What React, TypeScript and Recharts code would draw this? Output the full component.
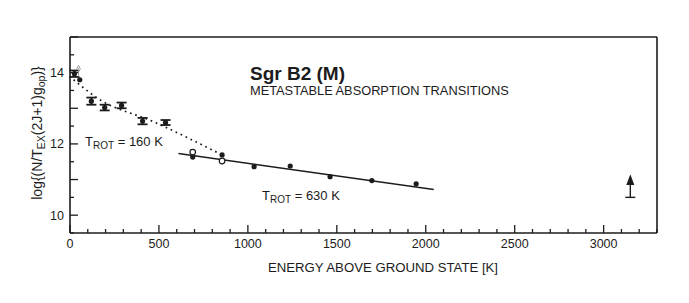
import { ComposedChart, Line, Scatter, ErrorBar, XAxis, YAxis } from "recharts"

// energy above ground state [K] and log column density
const barE = [25, 120, 195, 290, 408, 537]
const barLogN = [13.97, 13.2, 13.02, 13.08, 12.64, 12.6]
const barErr = [0.09, 0.1, 0.08, 0.08, 0.09, 0.07]

const dotE = [55, 690, 855, 1035, 1238, 1462, 1697, 1946]
const dotLogN = [13.8, 11.63, 11.69, 11.36, 11.38, 11.08, 10.97, 10.88]

const openE = [690, 855]
const openLogN = [11.77, 11.52]

// lower limits
const greyLimitE = [48]
const greyLimitLogN = [13.95]
const limitE = [3150]
const limitLogN = [10.5]

// rotational temperature fits
const fit160E = [20, 150, 480, 860]
const fit160LogN = [13.8, 13.3, 12.6, 11.68]
const fit630E = [610, 2045]
const fit630LogN = [11.73, 10.72]

const xLabelTicks = [0, 500, 1000, 1500, 2000, 2500, 3000]
const yLabelTicks = [10, 12, 14]
const xTicks = Array.from({ length: 34 }, (_, i) => i * 100)
const yTicks = Array.from({ length: 12 }, (_, i) => 9.5 + i * 0.5)

const pts = (xs: number[], ys: number[], err?: number[]) =>
  xs.map((x, i) => ({ x, y: ys[i], err: err ? err[i] : 0 }))

const INK = "#1c1c1c"
const FONT = "'Liberation Sans', Arial, sans-serif"

const XTick = (p: any) => {
  const { x, y, payload, side } = p
  const v = payload.value
  const major = v % 500 === 0
  const dir = side === "bottom" ? -1 : 1
  return (
    <g>
      <line x1={x} x2={x} y1={y} y2={y + dir * (major ? 8 : 4)} stroke={INK} strokeWidth={1.3} />
      {side === "bottom" && xLabelTicks.includes(v) && (
        <text x={x} y={y + 15} textAnchor="middle" fontSize={12.5} fill={INK} fontFamily={FONT}>
          {v}
        </text>
      )}
    </g>
  )
}

const YTick = (p: any) => {
  const { x, y, payload, side } = p
  const v = payload.value
  const major = Number.isInteger(v)
  const dir = side === "left" ? 1 : -1
  return (
    <g>
      <line x1={x} x2={x + dir * (major ? 8 : 4)} y1={y} y2={y} stroke={INK} strokeWidth={1.3} />
      {side === "left" && yLabelTicks.includes(v) && (
        <text x={x - 6} y={y + 4.5} textAnchor="end" fontSize={12.5} fill={INK} fontFamily={FONT}>
          {v}
        </text>
      )}
    </g>
  )
}

const Dot = (p: any) => <circle cx={p.cx} cy={p.cy} r={2.6} fill={INK} />
const OpenDot = (p: any) => <circle cx={p.cx} cy={p.cy} r={2.8} fill="#fff" stroke={INK} strokeWidth={1.2} />

const Arrow = (p: any) => (
  <g stroke={INK} strokeWidth={1.4}>
    <line x1={p.cx - 5} x2={p.cx + 5} y1={p.cy} y2={p.cy} />
    <line x1={p.cx} x2={p.cx} y1={p.cy} y2={p.cy - 14} />
    <path d={`M${p.cx - 3},${p.cy - 13} L${p.cx},${p.cy - 21} L${p.cx + 3},${p.cy - 13} Z`} fill={INK} />
  </g>
)

const GreyArrow = (p: any) => (
  <g stroke="#9a9a9a" strokeWidth={1}>
    <line x1={p.cx} x2={p.cx} y1={p.cy + 2} y2={p.cy - 6} />
    <path d={`M${p.cx - 2},${p.cy - 5} L${p.cx},${p.cy - 9} L${p.cx + 2},${p.cy - 5}`} fill="none" />
  </g>
)

export default function App() {
  return (
    <div style={{ position: "absolute", left: 0, top: 0, width: 689, height: 303, background: "#fff" }}>
      <ComposedChart width={689} height={303} margin={{ top: 0, right: 0, bottom: 0, left: 0 }}>
        <XAxis
          xAxisId={0}
          dataKey="x"
          type="number"
          domain={[0, 3300]}
          ticks={xTicks}
          interval={0}
          height={70}
          tickSize={0}
          tickMargin={0}
          tickLine={false}
          axisLine={{ stroke: INK, strokeWidth: 1.6 }}
          tick={(p: any) => <XTick {...p} side="bottom" />}
        />
        <XAxis
          xAxisId="top"
          orientation="top"
          dataKey="x"
          type="number"
          domain={[0, 3300]}
          ticks={xTicks}
          interval={0}
          height={37}
          tickSize={0}
          tickMargin={0}
          tickLine={false}
          axisLine={{ stroke: INK, strokeWidth: 1.6 }}
          tick={(p: any) => <XTick {...p} side="top" />}
        />
        <YAxis
          yAxisId={0}
          type="number"
          domain={[9.5, 15]}
          ticks={yTicks}
          interval={0}
          width={70}
          tickSize={0}
          tickMargin={0}
          tickLine={false}
          axisLine={{ stroke: INK, strokeWidth: 1.6 }}
          tick={(p: any) => <YTick {...p} side="left" />}
        />
        <YAxis
          yAxisId="right"
          orientation="right"
          type="number"
          domain={[9.5, 15]}
          ticks={yTicks}
          interval={0}
          width={32}
          tickSize={0}
          tickMargin={0}
          tickLine={false}
          axisLine={{ stroke: INK, strokeWidth: 1.6 }}
          tick={(p: any) => <YTick {...p} side="right" />}
        />
        <Line
          data={pts(fit160E, fit160LogN)}
          dataKey="y"
          type="monotone"
          stroke={INK}
          strokeWidth={1.7}
          strokeDasharray="1.7 3.8"
          dot={false}
          isAnimationActive={false}
        />
        <Line
          data={pts(fit630E, fit630LogN)}
          dataKey="y"
          type="linear"
          stroke={INK}
          strokeWidth={1.4}
          dot={false}
          isAnimationActive={false}
        />
        <Scatter data={pts(barE, barLogN, barErr)} dataKey="y" shape={Dot} isAnimationActive={false}>
          <ErrorBar dataKey="err" direction="y" width={5} stroke={INK} strokeWidth={1.8} isAnimationActive={false} />
        </Scatter>
        <Scatter data={pts(dotE, dotLogN)} dataKey="y" shape={Dot} isAnimationActive={false} />
        <Scatter data={pts(openE, openLogN)} dataKey="y" shape={OpenDot} isAnimationActive={false} />
        <Scatter data={pts(greyLimitE, greyLimitLogN)} dataKey="y" shape={GreyArrow} isAnimationActive={false} />
        <Scatter data={pts(limitE, limitLogN)} dataKey="y" shape={Arrow} isAnimationActive={false} />
      </ComposedChart>
      <svg width={689} height={303} style={{ position: "absolute", left: 0, top: 0, pointerEvents: "none" }} fontFamily={FONT} fill={INK}>
        <text x={250} y={80} fontSize={19} fontWeight="bold">Sgr B2 (M)</text>
        <text x={250} y={95} fontSize={12.8}>METASTABLE ABSORPTION TRANSITIONS</text>
        <text x={85} y={146} fontSize={13}>
          T<tspan fontSize={10} dy={3}>ROT</tspan>
          <tspan dy={-3}> = 160 K</tspan>
        </text>
        <text x={262} y={200} fontSize={13}>
          T<tspan fontSize={10} dy={3}>ROT</tspan>
          <tspan dy={-3}> = 630 K</tspan>
        </text>
        <text x={383} y={272} fontSize={13.2} textAnchor="middle">ENERGY ABOVE GROUND STATE [K]</text>
        <text transform="translate(42,133) rotate(-90)" fontSize={14} textAnchor="middle">
          log{"{"}(N/T<tspan fontSize={10.5} dy={3}>EX</tspan>
          <tspan dy={-3}>(2J+1)g</tspan>
          <tspan fontSize={10.5} dy={3}>op</tspan>
          <tspan dy={-3}>){"}"}</tspan>
        </text>
      </svg>
    </div>
  )
}
